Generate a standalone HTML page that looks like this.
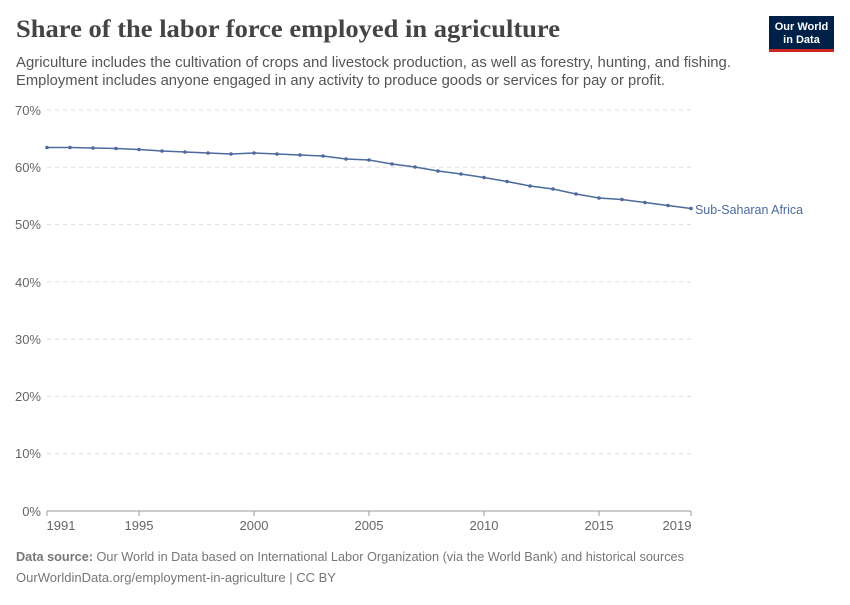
<!DOCTYPE html>
<html><head><meta charset="utf-8"><style>
body{margin:0;background:#fff;width:850px;height:600px;overflow:hidden;font-family:"Liberation Sans",sans-serif;}
</style></head><body>
<svg width="850" height="600" xmlns="http://www.w3.org/2000/svg">
<text x="16" y="37" font-family="Liberation Serif,serif" font-size="25" font-weight="bold" fill="#444" textLength="544" lengthAdjust="spacingAndGlyphs">Share of the labor force employed in agriculture</text>
<text x="16" y="67" font-size="14.5" fill="#555" textLength="715" lengthAdjust="spacingAndGlyphs">Agriculture includes the cultivation of crops and livestock production, as well as forestry, hunting, and fishing.</text>
<text x="16" y="85" font-size="14.5" fill="#555" textLength="649" lengthAdjust="spacingAndGlyphs">Employment includes anyone engaged in any activity to produce goods or services for pay or profit.</text>
<rect x="769" y="16" width="65" height="36" fill="#002147"/>
<rect x="769" y="49" width="65" height="3" fill="#ce261e"/>
<text x="801.5" y="30" font-size="11" font-weight="bold" fill="#fff" text-anchor="middle">Our World</text>
<text x="801.5" y="43" font-size="11" font-weight="bold" fill="#fff" text-anchor="middle">in Data</text>
<g stroke="#ddd" stroke-dasharray="4,4">
<line x1="47" x2="691" y1="110" y2="110"/><line x1="47" x2="691" y1="167.3" y2="167.3"/>
<line x1="47" x2="691" y1="224.6" y2="224.6"/><line x1="47" x2="691" y1="281.9" y2="281.9"/>
<line x1="47" x2="691" y1="339.1" y2="339.1"/><line x1="47" x2="691" y1="396.4" y2="396.4"/>
<line x1="47" x2="691" y1="453.7" y2="453.7"/>
</g>
<line x1="47" x2="691" y1="511" y2="511" stroke="#999"/>
<g font-size="13" fill="#666" text-anchor="end">
<text x="41" y="115">70%</text><text x="41" y="172">60%</text><text x="41" y="229">50%</text>
<text x="41" y="287">40%</text><text x="41" y="344">30%</text><text x="41" y="401">20%</text>
<text x="41" y="458">10%</text><text x="41" y="516">0%</text>
</g>
<g stroke="#999"><line x1="47" x2="47" y1="511" y2="516"/><line x1="139" x2="139" y1="511" y2="516"/><line x1="254" x2="254" y1="511" y2="516"/><line x1="369" x2="369" y1="511" y2="516"/><line x1="484" x2="484" y1="511" y2="516"/><line x1="599" x2="599" y1="511" y2="516"/><line x1="691" x2="691" y1="511" y2="516"/></g>
<g font-size="13" fill="#666" text-anchor="middle">
<text x="61" y="530">1991</text><text x="139" y="530">1995</text><text x="254" y="530">2000</text>
<text x="369" y="530">2005</text><text x="484" y="530">2010</text><text x="599" y="530">2015</text><text x="677" y="530">2019</text>
</g>
<polyline fill="none" stroke="#4c6a9c" stroke-width="1.5" points="47,147.5 70,147.5 93,148 116,148.5 139,149.5 162,151 185,152 208,153 231,154 254,153 277,154 300,155 323,156 346,159 369,160 392,164 415,167 438,171 461,174 484,177.5 507,181.5 530,186 553,189 576,194 599,198 622,199.5 645,202.5 668,205.5 691,208.5"/>
<g fill="#4c6a9c">
<circle cx="47" cy="147.5" r="1.8"/><circle cx="70" cy="147.5" r="1.8"/><circle cx="93" cy="148" r="1.8"/><circle cx="116" cy="148.5" r="1.8"/><circle cx="139" cy="149.5" r="1.8"/><circle cx="162" cy="151" r="1.8"/><circle cx="185" cy="152" r="1.8"/><circle cx="208" cy="153" r="1.8"/><circle cx="231" cy="154" r="1.8"/><circle cx="254" cy="153" r="1.8"/><circle cx="277" cy="154" r="1.8"/><circle cx="300" cy="155" r="1.8"/><circle cx="323" cy="156" r="1.8"/><circle cx="346" cy="159" r="1.8"/><circle cx="369" cy="160" r="1.8"/><circle cx="392" cy="164" r="1.8"/><circle cx="415" cy="167" r="1.8"/><circle cx="438" cy="171" r="1.8"/><circle cx="461" cy="174" r="1.8"/><circle cx="484" cy="177.5" r="1.8"/><circle cx="507" cy="181.5" r="1.8"/><circle cx="530" cy="186" r="1.8"/><circle cx="553" cy="189" r="1.8"/><circle cx="576" cy="194" r="1.8"/><circle cx="599" cy="198" r="1.8"/><circle cx="622" cy="199.5" r="1.8"/><circle cx="645" cy="202.5" r="1.8"/><circle cx="668" cy="205.5" r="1.8"/><circle cx="691" cy="208.5" r="1.8"/>
</g>
<text x="695" y="214" font-size="13" fill="#4c6a9c" textLength="108" lengthAdjust="spacingAndGlyphs">Sub-Saharan Africa</text>
<text x="16" y="561" font-size="13" fill="#777" textLength="668" lengthAdjust="spacingAndGlyphs"><tspan font-weight="bold">Data source:</tspan> Our World in Data based on International Labor Organization (via the World Bank) and historical sources</text>
<text x="16" y="582" font-size="13" fill="#777" textLength="320" lengthAdjust="spacingAndGlyphs">OurWorldinData.org/employment-in-agriculture | CC BY</text>
</svg>
</body></html>
